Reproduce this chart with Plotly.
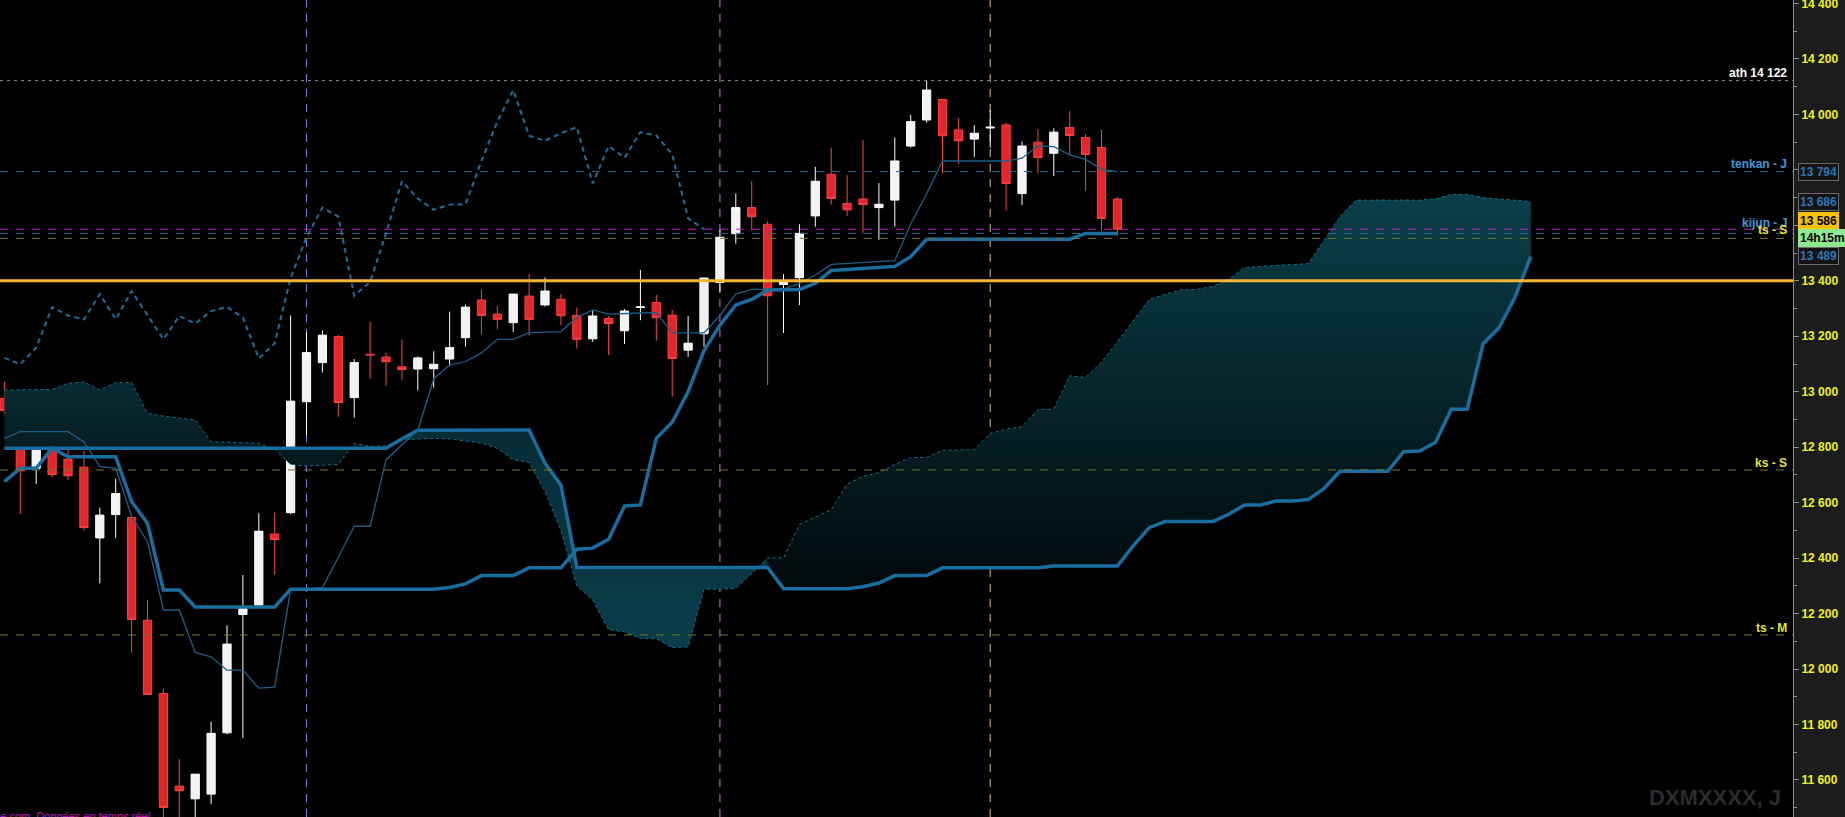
import plotly.graph_objects as go

# ---------------- data ----------------
idx = list(range(71))
opens = [12976,12952,12724,12883,12757,12728,12473,12557,12547,12176,
         11912,11578,11532,11549,11770,12197,12230,12487,12564,12964,
         13105,13199,12979,13135,13125,13090,13082,13083,13118,13195,
         13331,13280,13249,13345,13313,13333,13275,13191,13264,13220,
         13304,13322,13276,13150,13209,13394,13570,13664,13604,13387,
         13411,13634,13784,13679,13695,13664,13691,13886,13980,14054,
         13944,13911,13951,13962,13715,13900,13860,13953,13917,13881,
         13695]
highs = [13036,12960,12928,13000,12820,12787,12582,12687,12552,12249,
         11930,11675,11621,11810,12158,12339,12562,12565,13275,13215,
         13221,13205,13118,13253,13141,13189,13127,13146,13289,13314,
         13369,13309,13352,13424,13412,13352,13304,13295,13273,13298,
         13439,13349,13295,13273,13413,13583,13715,13759,13615,13424,
         13604,13811,13880,13781,13908,13752,13917,13998,14122,14054,
         13986,13962,14016,13970,13902,13947,13950,14012,13929,13944,
         13703]
lows = [12916,12559,12667,12691,12681,12499,12309,12473,12059,11908,
        11305,11446,11450,11513,11765,11752,12225,12340,12558,12844,
        13069,12910,12906,13047,13022,13043,13005,13015,13092,13163,
        13207,13225,13216,13203,13307,13240,13156,13180,13132,13172,
        13258,13184,12982,13126,13162,13357,13534,13583,13024,13212,
        13312,13595,13675,13634,13571,13548,13595,13881,13970,13787,
        13821,13847,13880,13653,13673,13787,13778,13853,13725,13581,
        13563]
closes = [12932,12715,12862,12701,12697,12510,12555,12633,12179,11908,
          11501,11561,11621,11768,12090,12218,12497,12467,12966,13141,
          13204,12961,13105,13133,13108,13080,13122,13099,13159,13305,
          13275,13261,13352,13261,13363,13274,13189,13273,13246,13291,
          13306,13267,13120,13175,13410,13557,13664,13631,13346,13396,
          13571,13759,13697,13656,13675,13676,13832,13974,14088,13923,
          13905,13932,13954,13751,13886,13844,13936,13924,13856,13625,
          13586]

tenkan = [12832,12856,12856,12856,12856,12820,12730,12724,12550,12459,
          12213,12213,12060,12044,11996,11996,11931,11935,12288,12288,
          12294,12403,12515,12515,12754,12809,12861,13047,13096,13109,
          13140,13189,13189,13213,13214,13217,13268,13295,13280,13283,
          13284,13285,13212,13212,13212,13275,13353,13369,13370,13369,
          13391,13421,13459,13462,13466,13469,13473,13605,13714,13832,
          13832,13832,13832,13832,13842,13886,13884,13854,13838,13802,
          13794]
kijun = [12676,12724,12724,12796,12766,12766,12766,12766,12604,12525,
         12285,12285,12224,12224,12224,12224,12224,12224,12288,12288,
         12288,12288,12288,12288,12288,12288,12288,12288,12294,12307,
         12337,12337,12337,12365,12365,12365,12432,12436,12468,12588,
         12592,12832,12890,13000,13148,13240,13313,13333,13367,13369,
         13369,13391,13437,13441,13445,13449,13452,13487,13550,13550,
         13550,13550,13550,13550,13550,13550,13550,13550,13571,13571,
         13571]

cloud_idx = list(range(97))
span_a = [13006,13008,13008,13008,13030,13036,13006,13033,13033,12922,
          12912,12905,12898,12820,12818,12815,12814,12792,12738,12732,
          12735,12738,12815,12803,12805,12826,12830,12832,12830,12822,
          12815,12796,12755,12745,12640,12500,12300,12249,12142,12134,
          12110,12110,12077,12080,12288,12288,12291,12345,12401,12401,
          12521,12548,12574,12667,12695,12708,12738,12763,12763,12789,
          12789,12791,12850,12865,12874,12935,12938,13058,13051,13106,
          13180,13257,13333,13351,13368,13369,13380,13406,13448,13452,
          13455,13459,13462,13546,13632,13691,13691,13691,13691,13691,
          13696,13712,13712,13700,13695,13690,13686]
span_b = [12796,12796,12796,12796,12796,12796,12796,12796,12796,12796,
          12796,12796,12796,12796,12796,12796,12796,12796,12796,12796,
          12796,12796,12796,12796,12796,12830,12861,12861,12861,12861,
          12861,12861,12861,12862,12742,12664,12366,12366,12366,12366,
          12366,12366,12366,12366,12366,12366,12366,12366,12366,12290,
          12290,12290,12290,12290,12297,12310,12337,12337,12337,12365,
          12365,12365,12365,12365,12365,12365,12372,12372,12372,12372,
          12372,12444,12510,12532,12532,12532,12532,12558,12592,12592,
          12606,12606,12611,12651,12713,12713,12713,12713,12784,12786,
          12817,12937,12937,13173,13231,13340,13487]

lag = 26  # chikou: closes shown 26 bars back
level_names = ["ath 14 122", "tenkan - J", "kijun - J", "ts - S", "ks - S", "ts - M"]
level_values = [14122, 13794, 13571, 13553, 12718, 12123]
cur_price = 13586
key_level = 13400
vlines = [19, 45, 62]
ytick_vals = list(range(11600, 14401, 200))
ytick_text = ["{:,}".format(v).replace(",", " ") for v in ytick_vals]

# ---------------- figure ----------------
Y0, Y1 = 11466.5, 14412.6
X0, X1 = -0.277, 112.49

fig = go.Figure()

def cloud_segment(a, b, lo_col, hi_col, start, stop):
    xs = cloud_idx[a:b]
    fig.add_trace(go.Scatter(x=xs, y=span_b[a:b], mode="lines", line=dict(width=0),
                             hoverinfo="skip", showlegend=False))
    fig.add_trace(go.Scatter(x=xs, y=span_a[a:b], mode="lines", line=dict(width=0),
                             fill="tonexty",
                             fillgradient=dict(type="vertical",
                                               colorscale=[[0, lo_col], [1, hi_col]],
                                               start=start, stop=stop),
                             hoverinfo="skip", showlegend=False))

cloud_segment(0, 26, "rgb(5,24,29)", "rgb(9,44,52)", 12730, 13040)
cloud_segment(25, 49, "rgb(10,60,74)", "rgb(8,44,54)", 12100, 12870)
cloud_segment(48, 97, "rgb(2,10,12)", "rgb(11,64,74)", 12300, 13720)

fig.add_trace(go.Candlestick(
    x=idx, open=opens, high=highs, low=lows, close=closes,
    increasing=dict(line=dict(color="#ffffff", width=1), fillcolor="#f2f2f2"),
    decreasing=dict(line=dict(color="#ff4040", width=1), fillcolor="#e3262a"),
    whiskerwidth=0, hoverinfo="skip", showlegend=False))

# overlay lines
fig.add_trace(go.Scatter(x=cloud_idx, y=span_a, mode="lines", xaxis="x2", yaxis="y2",
                         line=dict(color="#1d6f8c", width=1, dash="3px,3px"), showlegend=False))
fig.add_trace(go.Scatter(x=cloud_idx, y=span_b, mode="lines", xaxis="x2", yaxis="y2",
                         line=dict(color="#1a6e9f", width=3.5), showlegend=False))
fig.add_trace(go.Scatter(x=idx, y=tenkan, mode="lines", xaxis="x2", yaxis="y2",
                         line=dict(color="#1b5f88", width=1.3), showlegend=False))
fig.add_trace(go.Scatter(x=idx, y=kijun, mode="lines", xaxis="x2", yaxis="y2",
                         line=dict(color="#1a6e9f", width=3.5), showlegend=False))
fig.add_trace(go.Scatter(x=idx[:len(idx) - lag], y=closes[lag:], mode="lines", xaxis="x2", yaxis="y2",
                         line=dict(color="#1b6d9c", width=2, dash="5px,4px"), showlegend=False))

shapes = []
line_styles = [("#8a8a8a", "3px,4px"), ("#2d6a8c", "8px,8px"), ("#2d6a8c", "8px,8px"),
               ("#77771f", "8px,8px"), ("#77771f", "8px,8px"), ("#77771f", "8px,8px")]
for v, (c, d) in zip(level_values, line_styles):
    shapes.append(dict(type="line", xref="paper", x0=0, x1=1, yref="y", y0=v, y1=v,
                       line=dict(color=c, width=1, dash=d), layer="above"))
shapes.append(dict(type="line", xref="paper", x0=0, x1=1, yref="y", y0=cur_price, y1=cur_price,
                   line=dict(color="#c81ec8", width=1, dash="8px,8px"), layer="above"))
shapes.append(dict(type="line", xref="paper", x0=0, x1=1, yref="y", y0=key_level, y1=key_level,
                   line=dict(color="#f7b733", width=3), layer="above"))
for v, c in zip(vlines, ["#6f7fe0", "#d070e0", "#dcc070"]):
    shapes.append(dict(type="line", xref="x", x0=v, x1=v, yref="paper", y0=0, y1=1,
                       line=dict(color=c, width=1, dash="8px,7px"), layer="below"))

ann = []
lab_font = dict(family="Arial", size=12, weight="bold")
label_cfg = [("ath 14 122", 14149, "#ffffff"), ("tenkan - J", 13823, "#3d9ad6"),
             ("kijun - J", 13610, "#3d9ad6"), ("ts - S", 13582, "#e6e62a"),
             ("ks - S", 12742, "#e6e62a"), ("ts - M", 12149, "#e6e62a")]
for t, yv, c in label_cfg:
    ann.append(dict(text=t, xref="paper", x=1789 / 1793, xanchor="right", yref="y", y=yv,
                    yanchor="middle", showarrow=False, font=dict(lab_font, color=c)))

box_x = 1798 / 1793
def axis_box(text, yv, fc, bg, border):
    ann.append(dict(text=text, xref="paper", x=box_x, xanchor="left", yref="y", y=yv, yanchor="middle",
                    showarrow=False, font=dict(family="Arial", size=12, color=fc, weight="bold"),
                    bgcolor=bg, bordercolor=border, borderwidth=1, borderpad=1))
axis_box("13 794", 13794, "#2b74b5", "#141414", "#6a6a6a")
axis_box("13 686", 13686, "#2b74b5", "#141414", "#6a6a6a")
axis_box("13 489", 13489, "#2b74b5", "#141414", "#6a6a6a")
axis_box("13 586", 13614, "#000000", "#f7c300", "#f7c300")
axis_box("14h15m", 13555, "#000000", "#8fea8f", "#8fea8f")

ann.append(dict(text="DXMXXXX, J", xref="paper", x=1783 / 1793, xanchor="right", yref="paper",
                y=1 - 797 / 817, yanchor="middle", showarrow=False,
                font=dict(family="Arial", size=22, color="#2c2c2c", weight="bold")))
ann.append(dict(text="e.com  Données en temps réel", xref="paper", x=-2 / 1793, xanchor="left",
                yref="paper", y=1 - 815.5 / 817, yanchor="middle", showarrow=False,
                font=dict(family="Arial", size=11, color="#c010c0", style="italic")))

fig.update_layout(
    width=1845, height=817, margin=dict(l=0, r=52, t=0, b=0, autoexpand=False),
    paper_bgcolor="#1c1c1c", plot_bgcolor="#000000",
    showlegend=False, boxgap=0.26, hovermode=False,
    shapes=shapes, annotations=ann,
    xaxis=dict(range=[X0, X1], showgrid=False, zeroline=False, showticklabels=False,
               rangeslider=dict(visible=False), fixedrange=True, automargin=False),
    yaxis=dict(range=[Y0, Y1], side="right", showgrid=False, zeroline=False,
               tickvals=ytick_vals, ticktext=ytick_text, ticks="outside", ticklen=5,
               ticklabeloverflow="allow", automargin=False,
               tickcolor="#8c8c8c", showline=True, linecolor="#8c8c8c", linewidth=1,
               tickfont=dict(family="Arial", size=12, color="#f0f020", weight="bold"),
               minor=dict(tickvals=list(range(11500, 14401, 200)), ticks="outside", ticklen=3,
                          tickcolor="#8c8c8c")),
    xaxis2=dict(matches="x", overlaying="x", visible=False, range=[X0, X1], automargin=False),
    yaxis2=dict(matches="y", overlaying="y", visible=False, range=[Y0, Y1], automargin=False),
)

fig.write_html("out.html", config={"displayModeBar": False, "staticPlot": True},
               post_script="document.body.style.margin='0';document.body.style.overflow='hidden';")
